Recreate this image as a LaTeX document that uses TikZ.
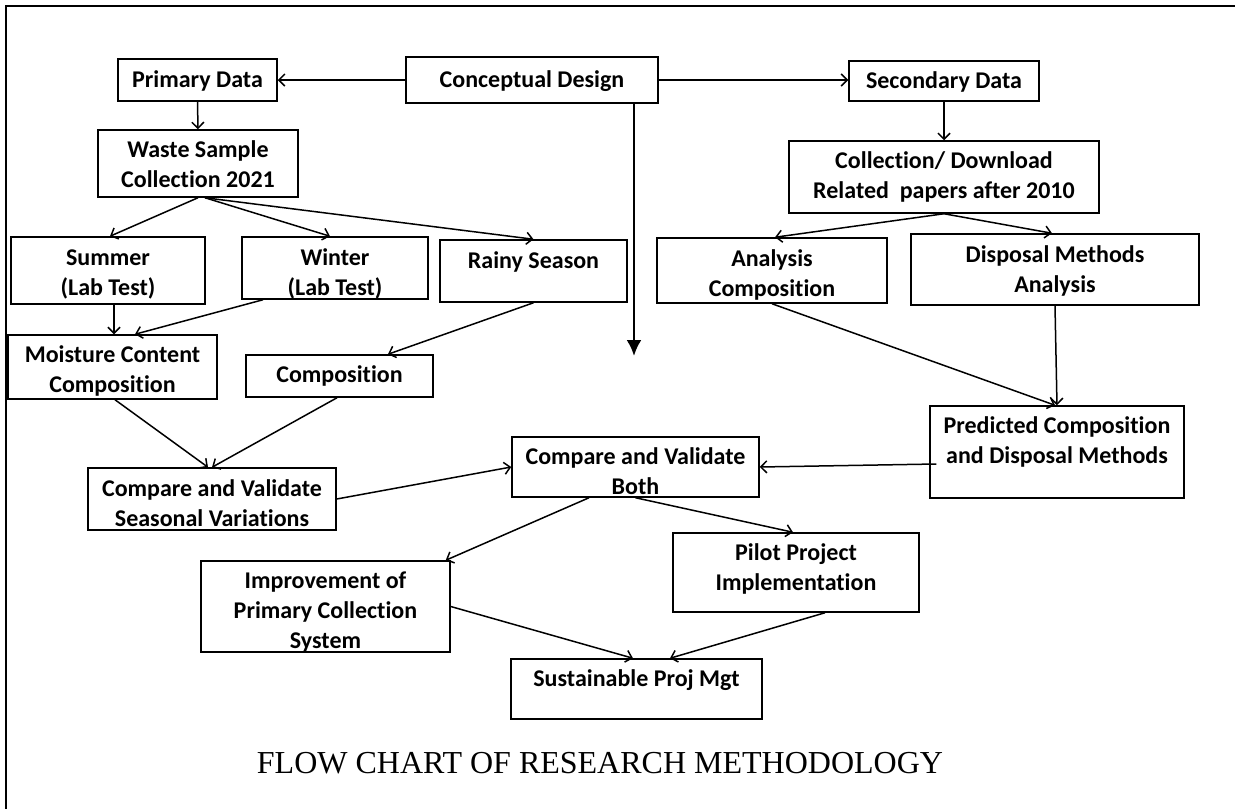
\documentclass[tikz,border=0pt]{standalone}
\usepackage{fontspec}
\setmainfont{Liberation Serif}
\newfontfamily\boxfamily{Carlito}[Ligatures = NoCommon]
\usetikzlibrary{arrows.meta}

% text lines of a box, raised by #1 from the centre
\newcommand{\boxlines}[2][0pt]{\raisebox{#1}[0pt][0pt]{\begin{tabular}{@{}c@{}}#2\end{tabular}}}

\tikzset{
    box/.style = {draw, line width = 1.5pt, inner sep = 0pt,
        font = \boxfamily\bfseries\fontsize{24}{30}\selectfont},
    flow/.style = {line width = 1.5pt, -{Straight Barb[length = 6pt, width = 12pt]}},
    mainflow/.style = {line width = 2.5pt, -{Latex[length = 16pt, width = 15pt]}},
    caption/.style = {font = \fontsize{32}{38}\selectfont}
}

\begin{document}
\begin{tikzpicture}[x = 1pt, y = -1pt]
    \useasboundingbox (0,0) rectangle (1235,809);
    \draw[line width = 2pt] (1235,6) -- (6,6) -- (6,809);

    % top row
    \node[box, minimum width = 252pt, minimum height = 46pt] (concept) at (532,80) {\boxlines[-8pt]{Conceptual Design}};
    \node[box, minimum width = 159pt, minimum height = 42pt] (primary) at (197.5,80) {\boxlines[-8pt]{Primary Data}};
    \node[box, minimum width = 190pt, minimum height = 40pt] (secondary) at (944,81) {\boxlines[-8pt]{Secondary Data}};
    \node[box, minimum width = 200pt, minimum height = 67pt] (waste) at (198,163.5) {\boxlines[-9.5pt]{Waste Sample\\ Collection 2021}};
    \node[box, minimum width = 310pt, minimum height = 72pt] (collect) at (944,177) {\boxlines[-6.5pt]{Collection/ Download\\ Related\ \ papers after 2010}};

    % seasons and analyses
    \node[box, minimum width = 194pt, minimum height = 67pt] (summer) at (108,270.5) {\boxlines[-10pt]{Summer\\ (Lab Test)}};
    \node[box, minimum width = 186pt, minimum height = 62pt] (winter) at (335,268) {\boxlines[-12.5pt]{Winter\\ (Lab Test)}};
    \node[box, minimum width = 187pt, minimum height = 62pt] (rainy) at (533.5,271) {\boxlines[2pt]{Rainy Season}};
    \node[box, minimum width = 230pt, minimum height = 65pt] (analysis) at (772,270.5) {\boxlines[-11pt]{Analysis\\ Composition}};
    \node[box, minimum width = 288pt, minimum height = 71pt] (disposal) at (1055,269.5) {\boxlines[-8pt]{Disposal Methods\\ Analysis}};

    \node[box, minimum width = 209pt, minimum height = 64pt] (moisture) at (112.5,367) {\boxlines[-11pt]{Moisture Content\\ Composition}};
    \node[box, minimum width = 187pt, minimum height = 42pt] (compo) at (339.5,376) {\boxlines[-7pt]{Composition}};
    \node[box, minimum width = 254pt, minimum height = 92pt] (predicted) at (1057,452) {\boxlines[3pt]{Predicted Composition\\ and Disposal Methods}};

    % validation and outcome
    \node[box, minimum width = 248pt, minimum height = 62pt] (compareS) at (212,499) {\boxlines[-13pt]{Compare and Validate\\ Seasonal Variations}};
    \node[box, minimum width = 247pt, minimum height = 60pt] (compareB) at (635.5,467) {\boxlines[-13pt]{Compare and Validate\\ Both}};
    \node[box, minimum width = 249pt, minimum height = 91pt] (improve) at (325.5,606.5) {\boxlines[-12.5pt]{Improvement of\\ Primary Collection\\ System}};
    \node[box, minimum width = 246pt, minimum height = 79pt] (pilot) at (796,572.5) {\boxlines[-3.5pt]{Pilot Project\\ Implementation}};
    \node[box, minimum width = 251pt, minimum height = 60pt] (sustain) at (636.5,689) {\boxlines[2pt]{Sustainable Proj Mgt}};

    \node[caption, anchor = base] (title) at (600,773) {FLOW CHART OF RESEARCH METHODOLOGY};

    \coordinate (downtip) at (634,356);

    \draw[flow] (concept.west) -- (primary.east);
    \draw[flow] (concept.east) -- (concept.east -| secondary.west);
    \draw[mainflow] ([xshift = 102pt]concept.south) -- (downtip);
    \draw[flow] (primary.south) -- (waste.north);
    \draw[flow] (secondary.south) -- (collect.north);

    \draw[flow] (waste.south) -- ([xshift = 2pt]summer.north);
    \draw[flow] ([xshift = 7pt]waste.south) -- ([xshift = -5pt]winter.north);
    \draw[flow] ([xshift = 7pt]waste.south) -- (rainy.north);
    \draw[flow] ([xshift = 6pt]summer.south) -- ([xshift = 1.5pt]moisture.north);
    \draw[flow] ([xshift = -72pt]winter.south) -- ([xshift = 22.5pt]moisture.north);
    \draw[flow] (rainy.south) -- ([xshift = 48.5pt]compo.north);
    \draw[flow] ([xshift = 2.5pt]moisture.south) -- ([xshift = -4pt]compareS.north);
    \draw[flow] ([xshift = -2.5pt]compo.south) -- (compareS.north);

    \draw[flow] (collect.south) -- ([xshift = 3pt]analysis.north);
    \draw[flow] (collect.south) -- ([xshift = -3pt]disposal.north);
    \draw[flow] (analysis.south) -- ([xshift = -2pt]predicted.north);
    \draw[flow] (disposal.south) -- (predicted.north);

    \draw[flow] (compareS.east) -- (compareB.west);
    \draw[flow] ([xshift = 7pt, yshift = -12pt]predicted.west) -- (compareB.east);
    \draw[flow] ([xshift = -46.5pt]compareB.south) -- ([xshift = -5pt]improve.north east);
    \draw[flow] (compareB.south) -- ([xshift = -3pt]pilot.north);
    \draw[flow] (improve.east) -- ([xshift = -3.5pt]sustain.north);
    \draw[flow] ([xshift = 29pt]pilot.south) -- ([xshift = 33.5pt]sustain.north);
\end{tikzpicture}
\end{document}
